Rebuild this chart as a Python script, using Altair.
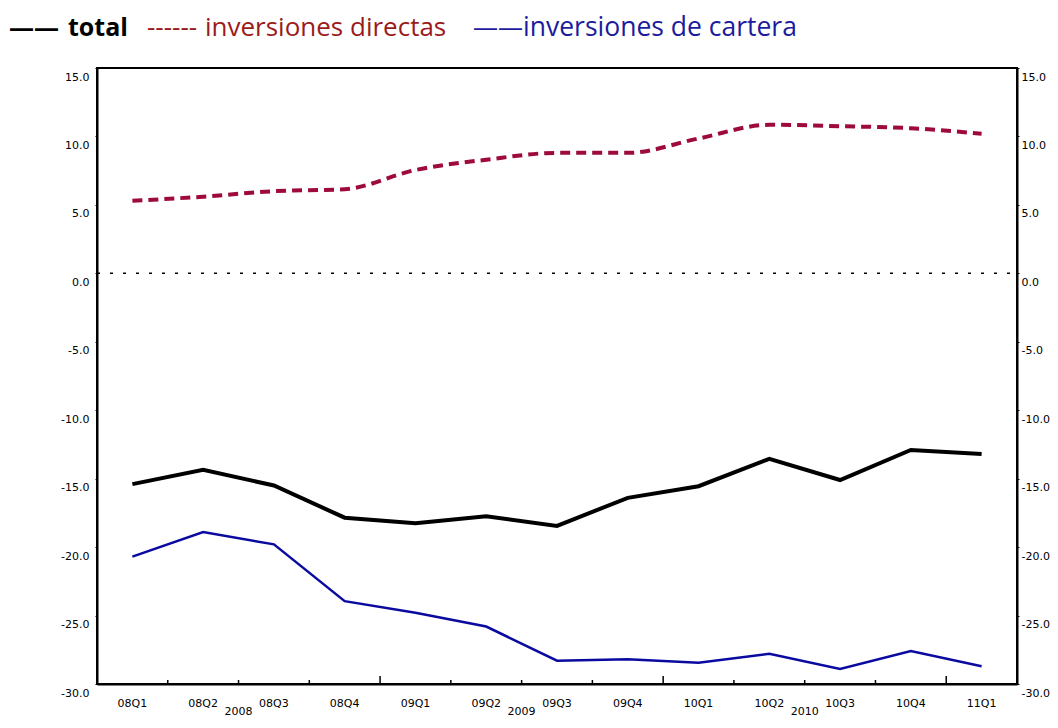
import altair as alt
import pandas as pd

quarters = ["08Q1", "08Q2", "08Q3", "08Q4", "09Q1", "09Q2", "09Q3", "09Q4",
            "10Q1", "10Q2", "10Q3", "10Q4", "11Q1"]
total = [-15.4, -14.35, -15.5, -17.85, -18.25, -17.75, -18.45, -16.4,
         -15.55, -13.55, -15.1, -12.9, -13.2]
directas = [5.3, 5.6, 6.0, 6.15, 7.55, 8.3, 8.8, 8.8, 9.85, 10.85, 10.75, 10.6, 10.2]
cartera = [-20.7, -18.9, -19.8, -23.95, -24.8, -25.8, -28.3, -28.2,
           -28.45, -27.8, -28.9, -27.6, -28.7]
y_ticks = [15, 10, 5, 0, -5, -10, -15, -20, -25, -30]
years = ["2008", "2009", "2010"]
year_anchor = ["08Q3", "09Q3", "10Q3"]
legend_symbols = ["——", "------", "——"]
legend_labels = ["total", "inversiones directas", "inversiones de cartera"]

df = pd.DataFrame({"q": quarters, "total": total, "directas": directas, "cartera": cartera})
tick_df = pd.DataFrame({"q": quarters[1:]})
tick_df["kind"] = ["long" if q.endswith("Q1") else "short" for q in quarters[1:]]
year_df = pd.DataFrame({"q": year_anchor, "year": years})
zero_df = pd.DataFrame({"v": [0]})

W, H = 920, 616
yscale = alt.Scale(domain=[-30, 15], nice=False, zero=False)
xscale = alt.Scale(type="band", domain=quarters, paddingInner=0, paddingOuter=0)
lab = "replace(format(datum.value, '.1f'), '\u2212', '-')"
FONT = "DejaVu Sans"

def yaxis(orient):
    return alt.Axis(orient=orient, values=y_ticks, labelExpr=lab, title=None, grid=False,
                    tickSize=2, tickColor="black", domainColor="black", domainWidth=2,
                    labelFont=FONT, labelFontSize=11, labelColor="black",
                    labelBaseline="middle", labelOffset=9,
                    labelPadding=6 if orient == "left" else 2)

xaxis = alt.Axis(title=None, ticks=False, labelAngle=0, labelPadding=13, grid=False,
                 domainColor="black", domainWidth=2, labelFont=FONT, labelFontSize=11,
                 labelColor="black")

base = alt.Chart(df)
x_enc = alt.X("q:N", scale=xscale, sort=quarters, axis=xaxis)

line_total = base.mark_line(color="black", strokeWidth=4).encode(
    x=x_enc, y=alt.Y("total:Q", scale=yscale, axis=yaxis("left")))
line_dir = base.mark_line(color="#9E0A3C", strokeWidth=4, strokeDash=[10, 6],
                          interpolate="monotone").encode(
    x=x_enc, y=alt.Y("directas:Q", scale=yscale, axis=None))
line_car = base.mark_line(color="#0A0AA0", strokeWidth=2.5).encode(
    x=x_enc, y=alt.Y("cartera:Q", scale=yscale, axis=None))
right_axis = base.mark_line(opacity=0).encode(
    x=x_enc, y=alt.Y("total:Q", scale=yscale, axis=yaxis("right")))

zero = alt.Chart(zero_df).mark_rule(color="black", strokeWidth=1.5, strokeDash=[3, 10]).encode(
    y=alt.Y("v:Q", scale=yscale, axis=None), x=alt.value(0), x2=alt.value(W))

ticks_short = alt.Chart(tick_df).transform_filter("datum.kind == 'short'").mark_rule(
    color="black", strokeWidth=1.5).encode(
    x=alt.X("q:N", scale=xscale, sort=quarters, bandPosition=0),
    y=alt.value(H), y2=alt.value(H - 4))
ticks_long = alt.Chart(tick_df).transform_filter("datum.kind == 'long'").mark_rule(
    color="black", strokeWidth=1.5).encode(
    x=alt.X("q:N", scale=xscale, sort=quarters, bandPosition=0),
    y=alt.value(H), y2=alt.value(H - 8))

year_text = alt.Chart(year_df).mark_text(font=FONT, fontSize=11, color="black",
                                          baseline="middle").encode(
    x=alt.X("q:N", scale=xscale, sort=quarters, bandPosition=0),
    y=alt.value(H + 28), text="year:N")

LEG_Y = -32
leg_specs = [
    (legend_symbols[0], -88, "black", "bold", 25),
    (legend_labels[0], -29, "black", "bold", 25),
    (legend_symbols[1], 50, "#9B1B1B", "normal", 26),
    (legend_labels[1], 108, "#9B1B1B", "normal", 26),
    (legend_symbols[2], 376, "#1C1C9C", "normal", 25),
    (legend_labels[2], 426, "#1C1C9C", "normal", 26.5),
]
legend_layers = []
for txt, xv, col, fw, fs in leg_specs:
    legend_layers.append(
        alt.Chart(pd.DataFrame({"t": [txt]})).mark_text(
            font="Open Sans", fontSize=fs, color=col, fontWeight=fw, align="left",
            baseline="alphabetic").encode(x=alt.value(xv), y=alt.value(LEG_Y), text="t:N"))

chart = alt.layer(zero, line_dir, line_car, line_total, right_axis,
                  ticks_short, ticks_long, year_text, *legend_layers).resolve_scale(
    y="independent").properties(
    width=W, height=H, autosize=alt.AutoSizeParams(type="none"),
    padding={"left": 89, "top": 60, "right": 33, "bottom": 36},
    background="white").configure_view(stroke="black", strokeWidth=2)

chart.save("out.html", embed_options={"renderer": "svg", "actions": False})
